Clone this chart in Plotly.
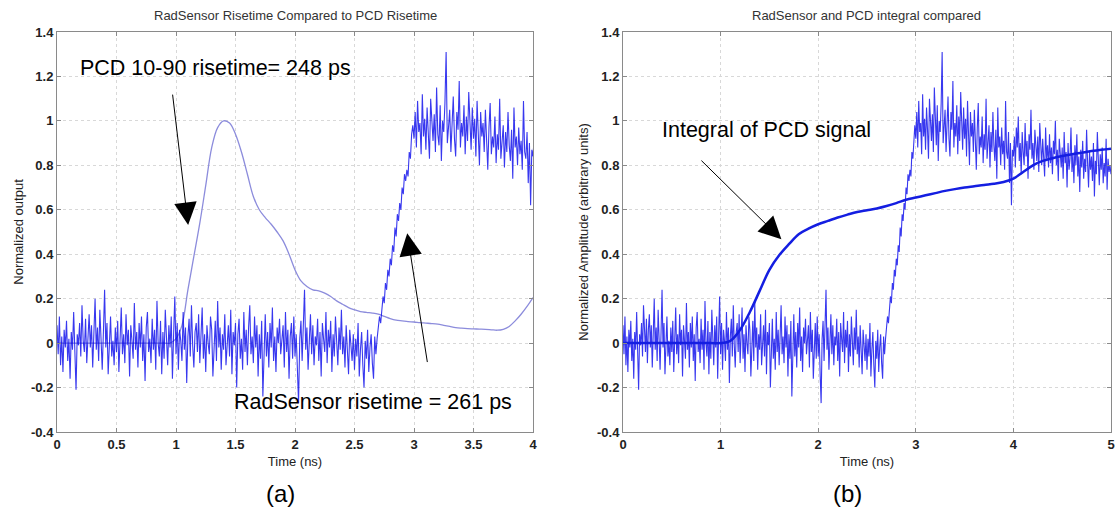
import numpy as np
import plotly.graph_objects as go

# RadSensor signal, one sample every 0.01 ns from 0 to 5 ns
rad_step = 0.01
rad_signal = [
    0.08, -0.05, 0.12, -0.10, 0.03, -0.13, 0.06, -0.02, 0.10, -0.08,
    0.02, -0.16, 0.05, -0.03, 0.14, -0.07, -0.21, 0.04, -0.01, 0.09,
    -0.06, 0.17, 0.01, -0.04, 0.11, -0.09, 0.06, 0.13, -0.02, 0.08,
    -0.11, 0.04, 0.20, -0.03, 0.07, -0.08, 0.15, 0.02, -0.12, 0.05,
    0.24, -0.02, 0.09, -0.14, 0.03, 0.12, -0.06, 0.01, -0.10, 0.07,
    -0.04, 0.10, -0.13, 0.02, 0.16, -0.05, 0.04, -0.09, 0.13, -0.01,
    0.06, -0.15, 0.08, 0.01, -0.07, 0.18, -0.03, 0.05, -0.11, 0.09,
    -0.02, 0.12, -0.08, 0.04, -0.17, 0.07, 0.14, -0.04, 0.02, -0.09,
    0.11, -0.03, 0.06, -0.12, 0.19, 0.00, -0.06, 0.10, -0.14, 0.05,
    -0.07, 0.15, 0.03, -0.10, 0.08, -0.02, 0.12, -0.16, 0.04, 0.21,
    -0.05, 0.09, -0.12, 0.06, 0.01, -0.08, 0.14, -0.03, 0.07, -0.18,
    0.03, 0.11, -0.06, 0.17, -0.01, -0.11, 0.05, 0.09, -0.04, 0.13,
    -0.09, 0.02, 0.16, -0.07, 0.04, -0.13, 0.08, 0.00, -0.05, 0.12,
    0.06, -0.15, 0.03, 0.10, -0.08, 0.19, -0.02, 0.07, -0.12, 0.04,
    -0.03, 0.13, -0.10, 0.01, 0.08, -0.06, 0.15, -0.14, 0.05, -0.01,
    0.09, -0.20, 0.04, 0.11, -0.07, 0.02, -0.12, 0.14, -0.04, 0.06,
    -0.10, 0.07, 0.17, -0.05, 0.03, -0.09, 0.12, -0.02, 0.08, -0.15,
    0.04, -0.07, 0.10, -0.24, 0.01, 0.13, -0.06, 0.05, -0.11, 0.09,
    -0.02, 0.16, -0.08, 0.03, -0.13, 0.07, 0.00, 0.11, -0.05, 0.02,
    0.08, -0.11, 0.14, -0.04, 0.06, -0.16, 0.03, 0.09, -0.07, 0.12,
    -0.06, 0.04, -0.14, -0.27, 0.02, 0.10, -0.08, 0.05, 0.24, -0.03,
    0.07, -0.12, 0.01, 0.13, -0.05, 0.08, -0.10, 0.03, -0.01, 0.11,
    -0.08, 0.05, -0.15, 0.09, 0.02, -0.04, 0.14, -0.09, 0.06, -0.02,
    0.10, -0.13, 0.04, -0.06, 0.12, 0.01, -0.10, 0.07, -0.03, 0.15,
    -0.05, 0.03, -0.11, 0.08, -0.02, -0.14, 0.06, 0.00, -0.08, 0.04,
    -0.12, 0.02, -0.06, 0.09, -0.15, -0.03, 0.05, -0.10, -0.20, 0.01,
    -0.07, 0.06, -0.13, -0.02, 0.04, -0.09, -0.16, 0.03, -0.05, 0.02,
    0.06, 0.12, 0.09, 0.17, 0.21, 0.18, 0.27, 0.24, 0.33, 0.30,
    0.38, 0.35, 0.44, 0.41, 0.52, 0.48, 0.58, 0.55, 0.63, 0.60,
    0.70, 0.67, 0.76, 0.73, 0.78, 0.75, 0.86, 0.83, 0.94, 0.98,
    0.92, 1.04, 0.88, 1.09, 0.95, 0.99, 0.85, 1.12, 0.93, 1.01,
    0.87, 1.06, 0.96, 0.83, 1.10, 0.98, 0.91, 1.03, 0.86, 1.15,
    0.94, 0.89, 1.07, 0.82, 1.00, 0.95, 1.08, 1.31, 0.90, 0.97,
    1.05, 0.86, 0.99, 1.11, 0.92, 0.84, 1.04, 0.96, 1.18, 0.88,
    0.99, 0.93, 1.07, 0.85, 1.02, 0.91, 1.13, 0.95, 0.87, 1.06,
    0.92, 1.01, 0.84, 1.09, 0.96, 0.80, 1.04, 0.93, 0.99, 0.86,
    1.05, 0.90, 0.78, 0.97, 1.08, 0.85, 0.93, 0.88, 1.02, 0.81,
    0.94, 0.87, 1.10, 0.83, 0.91, 0.98, 0.79, 0.95, 0.86, 1.04,
    0.89, 0.82, 0.96, 0.74, 1.06, 0.88, 0.93, 0.80, 0.97, 0.85,
    0.91, 0.78, 1.09, 0.86, 0.83, 0.95, 0.72, 0.90, 0.62, 0.87,
    0.84, 0.93, 0.79, 0.97, 0.88, 1.02, 0.82, 0.90, 0.76, 0.95,
    0.86, 0.80, 0.99, 0.84, 0.91, 0.74, 0.94, 0.87, 1.05, 0.83,
    0.90, 0.78, 0.96, 0.85, 0.82, 0.93, 0.77, 0.99, 0.86, 0.80,
    0.92, 0.84, 0.75, 0.97, 0.83, 0.89, 0.79, 0.94, 0.81, 0.88,
    0.76, 0.91, 0.85, 1.00, 0.80, 0.87, 0.73, 0.92, 0.84, 0.79,
    0.88, 0.74, 0.95, 0.81, 0.86, 0.70, 0.90, 0.78, 0.83, 0.97,
    0.77, 0.85, 0.72, 0.89, 0.80, 0.94, 0.75, 0.84, 0.68, 0.87,
    0.79, 0.91, 0.74, 0.83, 0.77, 0.96, 0.81, 0.70, 0.86, 0.78,
    0.84, 0.73, 0.90, 0.66, 0.82, 0.76, 0.95, 0.79, 0.71, 0.85,
    0.78, 0.88, 0.72, 0.81, 0.75, 0.92, 0.69, 0.83, 0.77, 0.80,
    0.76,
]

# PCD pulse, every 0.05 ns from 0 to 4 ns
pcd_step = 0.05
pcd_signal = [
    0, 0, 0, 0, 0, 0, 0, 0, 0, 0,
    0, 0, 0, 0, 0, 0, 0, 0, 0, 0,
    0.02, 0.08, 0.24, 0.39, 0.54, 0.71, 0.88, 0.97, 1.00, 0.99,
    0.94, 0.86, 0.76, 0.66, 0.60, 0.565, 0.535, 0.50, 0.46, 0.40,
    0.33, 0.28, 0.255, 0.24, 0.235, 0.225, 0.21, 0.19, 0.175, 0.16,
    0.15, 0.142, 0.138, 0.135, 0.13, 0.12, 0.11, 0.103, 0.10, 0.097,
    0.095, 0.092, 0.09, 0.088, 0.085, 0.08, 0.075, 0.07, 0.067, 0.065,
    0.064, 0.063, 0.062, 0.06, 0.058, 0.062, 0.075, 0.10, 0.13, 0.165,
    0.205,
]

# integral of the PCD signal, every 0.1 ns from 0 to 5 ns
int_step = 0.1
pcd_integral = [
    0, 0, 0, 0, 0, 0, 0, 0, 0, 0,
    0, 0.01, 0.06, 0.14, 0.235, 0.33, 0.395, 0.445, 0.49, 0.515,
    0.535, 0.55, 0.565, 0.578, 0.59, 0.598, 0.606, 0.617, 0.63, 0.645,
    0.655, 0.665, 0.675, 0.685, 0.693, 0.70, 0.706, 0.712, 0.717, 0.725,
    0.74, 0.77, 0.80, 0.82, 0.832, 0.842, 0.85, 0.857, 0.864, 0.87,
    0.875,
]

y_ticks = [-0.4, -0.2, 0, 0.2, 0.4, 0.6, 0.8, 1, 1.2, 1.4]
y_labels = ['-0.4', '-0.2', '0', '0.2', '0.4', '0.6', '0.8', '1', '1.2', '1.4']
xa_ticks = [0, 0.5, 1, 1.5, 2, 2.5, 3, 3.5, 4]
xa_labels = ['0', '0.5', '1', '1.5', '2', '2.5', '3', '3.5', '4']
xb_ticks = [0, 1, 2, 3, 4, 5]
xb_labels = ['0', '1', '2', '3', '4', '5']

t_rad = np.round(np.arange(len(rad_signal)) * rad_step, 3)
t_pcd = np.round(np.arange(len(pcd_signal)) * pcd_step, 3)
t_int = np.round(np.arange(len(pcd_integral)) * int_step, 3)

rad_color = 'rgba(0,0,235,0.78)'

fig = go.Figure()
fig.add_trace(go.Scatter(x=t_pcd, y=pcd_signal, mode='lines', line_shape='spline',
                         line=dict(color='rgb(140,140,220)', width=1.3),
                         xaxis='x', yaxis='y'))
fig.add_trace(go.Scatter(x=t_rad, y=rad_signal, mode='lines',
                         line=dict(color=rad_color, width=1.1),
                         xaxis='x', yaxis='y'))
fig.add_trace(go.Scatter(x=t_rad, y=rad_signal, mode='lines',
                         line=dict(color=rad_color, width=1.1),
                         xaxis='x2', yaxis='y2'))
fig.add_trace(go.Scatter(x=t_int, y=pcd_integral, mode='lines', line_shape='spline',
                         line=dict(color='rgb(20,30,225)', width=2.5),
                         xaxis='x2', yaxis='y2'))

tick_font = dict(family='Arial', size=13, color='#222', weight='bold')
title_font = dict(family='Arial', size=13, color='#222')
common = dict(showline=True, linecolor='#8a8a8a', linewidth=1, mirror='ticks',
              ticks='inside', ticklen=4, tickcolor='#8a8a8a',
              showgrid=True, gridcolor='#d8d8d8', griddash='dot', gridwidth=1,
              zeroline=False, tickfont=tick_font, automargin=False, tickmode='array')

fig.update_layout(
    width=1115, height=510,
    margin=dict(l=0, r=0, t=0, b=0),
    paper_bgcolor='white', plot_bgcolor='white',
    showlegend=False,
    xaxis=dict(domain=[57 / 1115, 533 / 1115], range=[0, 4],
               tickvals=xa_ticks, ticktext=xa_labels,
               title=dict(text='Time (ns)', font=title_font, standoff=6),
               anchor='y', **common),
    yaxis=dict(domain=[1 - 432 / 510, 1 - 32 / 510], range=[-0.4, 1.4],
               tickvals=y_ticks, ticktext=y_labels,
               title=dict(text='Normalized output', font=title_font, standoff=4),
               anchor='x', **common),
    xaxis2=dict(domain=[623 / 1115, 1111 / 1115], range=[0, 5],
                tickvals=xb_ticks, ticktext=xb_labels,
                title=dict(text='Time (ns)', font=title_font, standoff=6),
                anchor='y2', **common),
    yaxis2=dict(domain=[1 - 432 / 510, 1 - 32 / 510], range=[-0.4, 1.4],
                tickvals=y_ticks, ticktext=y_labels,
                title=dict(text='Normalized Amplitude (arbitrary units)', font=title_font, standoff=5),
                anchor='x2', **common),
)

big = dict(family='Arial', size=21.5, color='black')
arrow = dict(showarrow=True, arrowhead=2, arrowsize=4.5, arrowwidth=1, arrowcolor='black', text='')
label = dict(xref='paper', yref='paper', showarrow=False, xanchor='center', yanchor='middle')

annotations = [
    dict(text='RadSensor Risetime Compared to PCD Risetime', x=295 / 1115, y=1 - 15 / 510,
         font=dict(family='Arial', size=13, color='#333'), **label),
    dict(text='RadSensor and PCD integral compared', x=866 / 1115, y=1 - 15 / 510,
         font=dict(family='Arial', size=13, color='#333'), **label),
    dict(text='(a)', x=280 / 1115, y=1 - 493 / 510,
         font=dict(family='Arial', size=24, color='black'), **label),
    dict(text='(b)', x=847 / 1115, y=1 - 493 / 510,
         font=dict(family='Arial', size=24, color='black'), **label),
    dict(text='PCD 10-90 risetime= 248 ps', xref='x', yref='y', x=0.176, y=1.238,
         xanchor='left', yanchor='middle', showarrow=False, font=big),
    dict(text='RadSensor risetime = 261 ps', xref='x', yref='y', x=1.47, y=-0.265,
         xanchor='left', yanchor='middle', showarrow=False, font=big),
    dict(text='Integral of PCD signal', xref='x2', yref='y2', x=0.379, y=0.96,
         xanchor='left', yanchor='middle', showarrow=False, font=big),
    dict(xref='x', yref='y', axref='x', ayref='y', x=1.102, y=0.532, ax=0.97, ay=1.125, **arrow),
    dict(xref='x', yref='y', axref='x', ayref='y', x=2.943, y=0.494, ax=3.114, ay=-0.092, **arrow),
    dict(xref='x2', yref='y2', axref='x2', ayref='y2', x=1.623, y=0.467, ax=0.788, ay=0.828, **arrow),
]
fig.update_layout(annotations=annotations)

# the page's default 8px body margin would shift the 1115x510 figure
fig.write_html("out.html", config={'displayModeBar': False},
               post_script="document.body.style.margin='0';")
